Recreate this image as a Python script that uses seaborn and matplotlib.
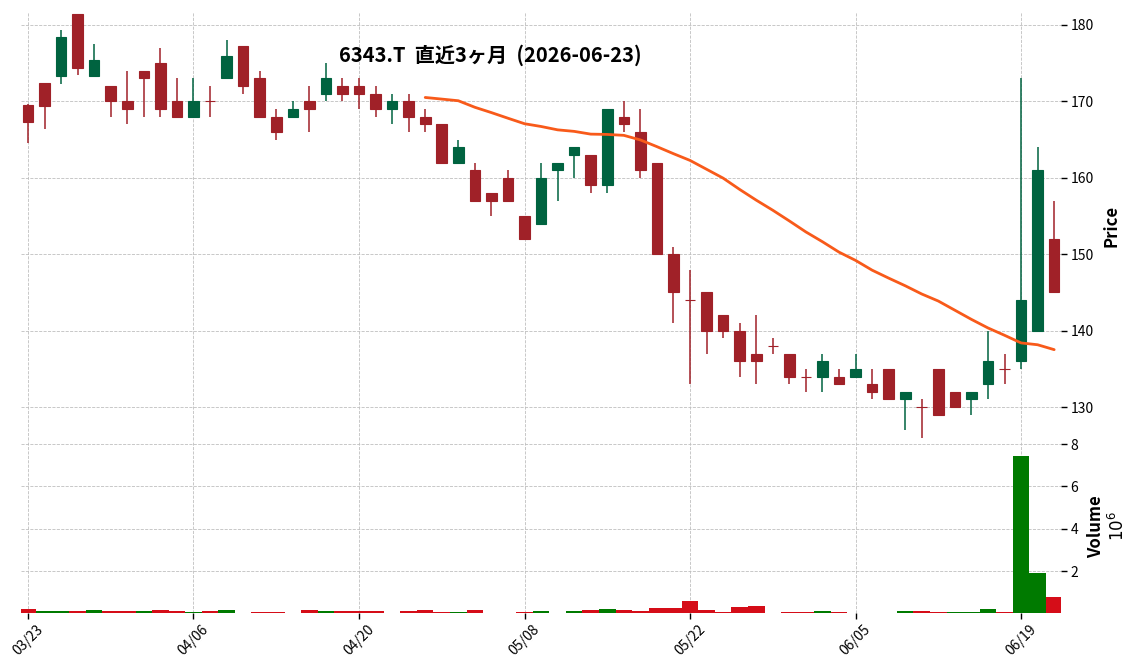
import numpy as np
import pandas as pd
import seaborn as sns
import matplotlib
matplotlib.use("Agg")
import matplotlib.pyplot as plt

# ---- data ----
holidays = ["2026-04-29", "2026-05-04", "2026-05-05", "2026-05-06"]
dates = pd.bdate_range("2026-03-23", "2026-06-23").drop(pd.to_datetime(holidays))

opens = [169.5, 172.4, 173.3, 181.4, 173.3, 172, 170, 174, 175, 170,
         168, 170, 173, 177.2, 173, 168, 168, 170, 171, 172,
         172, 171, 169, 170, 168, 167, 162, 161, 158, 160,
         155, 154, 161, 163, 163, 159, 168, 166, 162, 150,
         144, 145, 142, 140, 137, 138, 137, 134, 134, 134,
         134, 133, 135, 131, 130, 135, 132, 131, 133, 135,
         136, 140, 152]
highs = [169.6, 172.4, 179.4, 181.5, 177.5, 172, 174, 174, 177, 173,
         173, 172, 178, 177.2, 174, 169, 170, 172, 175, 173,
         173, 172, 171, 171, 169, 167, 165, 162, 158, 161,
         155, 162, 162, 164, 163, 169, 170, 169, 162, 151,
         148, 145, 142, 141, 142, 139, 137, 135, 137, 135,
         137, 135, 135, 132, 131, 135, 132, 132, 140, 137,
         173, 164, 157]
lows = [164.5, 166.4, 172.3, 173.4, 173.3, 168, 167, 168, 168, 168,
        168, 168, 173, 171, 168, 165, 168, 166, 170, 170,
        169, 168, 167, 166, 166, 162, 162, 157, 155, 157,
        152, 154, 157, 160, 158, 158, 166, 160, 150, 141,
        133, 137, 139, 134, 133, 137, 133, 132, 132, 133,
        134, 131, 131, 127, 126, 129, 130, 129, 131, 133,
        135, 140, 145]
closes = [167.3, 169.4, 178.4, 174.4, 175.4, 170, 169, 173, 169, 168,
          170, 170, 176, 172, 168, 166, 169, 169, 173, 171,
          171, 169, 170, 168, 167, 162, 164, 157, 157, 157,
          152, 160, 162, 164, 159, 169, 167, 161, 150, 145,
          144, 140, 140, 136, 136, 138, 134, 134, 136, 133,
          135, 132, 131, 132, 130, 129, 130, 132, 136, 135,
          144, 161, 145]
volumes = [205000, 110000, 110000, 110000, 160000, 110000, 110000, 110000, 160000, 110000,
           65000, 110000, 160000, 0, 65000, 65000, 0, 160000, 110000, 110000,
           110000, 110000, 0, 110000, 160000, 65000, 65000, 160000, 0, 0,
           65000, 110000, 0, 110000, 160000, 205000, 160000, 110000, 250000, 250000,
           590000, 160000, 65000, 300000, 350000, 0, 65000, 65000, 110000, 65000,
           0, 0, 0, 110000, 110000, 65000, 65000, 65000, 205000, 65000,
           7450000, 1920000, 760000]

title = "6343.T  直近3ヶ月  (2026-06-23)"

df = pd.DataFrame({"date": dates, "open": opens, "high": highs, "low": lows,
                   "close": closes, "volume": volumes})
df["x"] = np.arange(len(df))
df["ma25"] = df["close"].rolling(25).mean()

UP, DOWN = "#006340", "#a02128"
VUP, VDOWN = "#007a00", "#d50d18"
candle_col = np.where(df["close"] > df["open"], UP, DOWN)
vol_col = np.where(df["close"] > df["close"].shift(1), VUP, VDOWN)

sns.set_theme(style="white")
plt.rcParams['font.family'] = ['Noto Sans CJK JP', 'DejaVu Sans']
plt.rcParams['text.color'] = 'black'
plt.rcParams['axes.labelcolor'] = 'black'
plt.rcParams['xtick.color'] = 'black'
plt.rcParams['ytick.color'] = 'black'

fig = plt.figure(figsize=(11.36, 6.70), dpi=100)
ax = fig.add_axes([0.0188, 0.3433, 0.915, 0.6388])
axv = fig.add_axes([0.0188, 0.0851, 0.915, 0.2582], sharex=ax)

# candles
ax.vlines(df["x"], df["low"], df["high"], colors=candle_col, lw=1.1, zorder=2)
ax.bar(df["x"], (df["close"] - df["open"]).abs(),
       bottom=np.minimum(df["open"], df["close"]), width=0.64,
       color=candle_col, edgecolor=candle_col, linewidth=0.8, zorder=3)

# 25-day moving average
sns.lineplot(data=df, x="x", y="ma25", ax=ax, color="#f85a1a", lw=2, zorder=4)

# volume
axv.bar(df["x"], df["volume"], width=1.0, color=vol_col, linewidth=0, zorder=2)

for a in (ax, axv):
    a.grid(True, ls="--", color="#bfbfbf", lw=0.6)
    a.set_axisbelow(True)
    for s in a.spines.values():
        s.set_visible(False)
    a.yaxis.tick_right()
    a.yaxis.set_label_position("right")
    a.tick_params(axis="y", right=True, left=False, length=4, width=1,
                  color="black", labelcolor="black", labelsize=10, pad=3)

ax.set_xlim(-0.4, 62.4)
ax.set_ylim(125.7, 181.7)
ax.set_yticks([130, 140, 150, 160, 170, 180])
ax.set_xlabel("")
ax.set_ylabel("Price", fontsize=12, fontweight="bold", labelpad=6, color="black")
ax.tick_params(axis="x", bottom=False, labelbottom=False)

vmax = df["volume"].max()
vmin = df.loc[df["volume"] > 0, "volume"].min()
axv.set_ylim(0.3 * vmin, 1.1 * vmax)
axv.set_yticks([2e6, 4e6, 6e6, 8e6])
axv.set_yticklabels(["2", "4", "6", "8"])
axv.set_ylabel("Volume\n$10^{6}$", fontsize=12, fontweight="bold", labelpad=6,
               color="black")

tick_idx = list(range(0, len(df), 10))
axv.set_xticks(tick_idx)
axv.set_xticklabels([df["date"][i].strftime("%m/%d") for i in tick_idx],
                    rotation=45, ha="center", fontsize=10)
axv.tick_params(axis="x", bottom=True, length=4, width=1, color="black",
                labelcolor="black", pad=3)
axv.set_xlabel("")

fig.text(0.432, 0.917, title, ha="center", va="center",
         fontsize=14.5, fontweight="bold", color="black")

fig.savefig("out.png", dpi=100)
